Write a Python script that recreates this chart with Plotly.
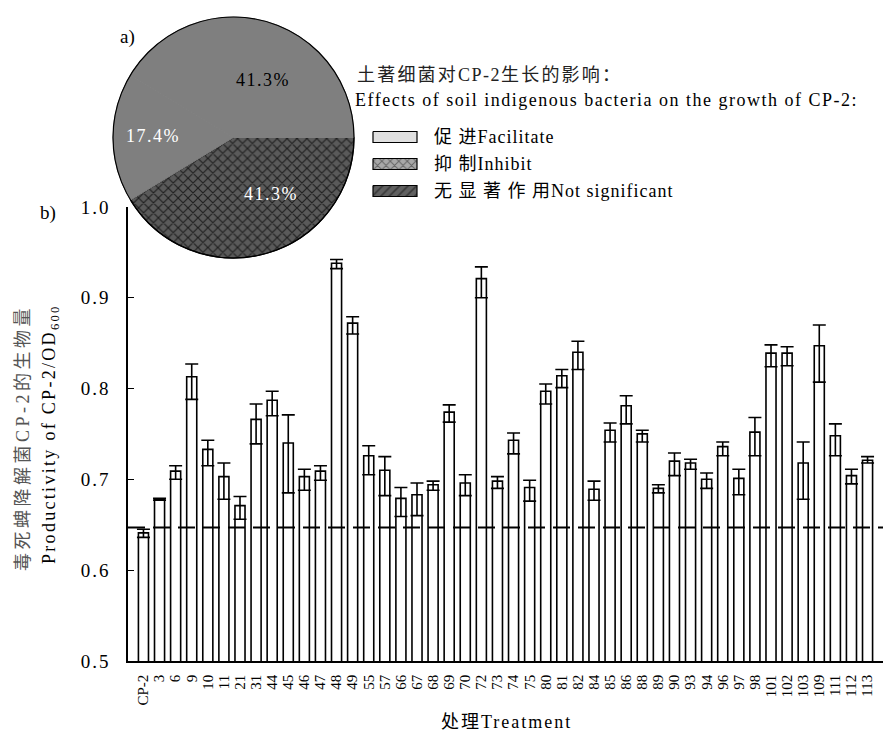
import plotly.graph_objects as go

# ---- data -------------------------------------------------------------
treatments = ["CP-2", "3", "6", "9", "10", "11", "21", "31", "44", "45", "46", "47",
              "48", "49", "55", "57", "66", "67", "68", "69", "70", "72", "73", "74",
              "75", "80", "81", "82", "84", "85", "86", "88", "89", "90", "93", "94",
              "96", "97", "98", "101", "102", "103", "109", "111", "112", "113"]

productivity = [0.641, 0.678, 0.709, 0.813, 0.733, 0.703, 0.671, 0.766, 0.787, 0.740,
                0.703, 0.709, 0.938, 0.872, 0.726, 0.710, 0.679, 0.683, 0.694, 0.774,
                0.696, 0.921, 0.698, 0.743, 0.691, 0.797, 0.814, 0.840, 0.689, 0.754,
                0.781, 0.750, 0.690, 0.720, 0.718, 0.700, 0.736, 0.701, 0.752, 0.839,
                0.839, 0.718, 0.847, 0.748, 0.704, 0.721]

err_plus = [0.004, 0.001, 0.006, 0.014, 0.010, 0.015, 0.010, 0.017, 0.010, 0.031,
            0.008, 0.006, 0.004, 0.007, 0.011, 0.015, 0.012, 0.013, 0.004, 0.008,
            0.009, 0.013, 0.005, 0.008, 0.008, 0.008, 0.007, 0.012, 0.009, 0.008,
            0.011, 0.004, 0.004, 0.009, 0.004, 0.007, 0.005, 0.010, 0.016, 0.009,
            0.007, 0.023, 0.023, 0.013, 0.007, 0.004]

err_minus = [0.005, 0.001, 0.009, 0.025, 0.018, 0.025, 0.015, 0.027, 0.017, 0.055,
             0.015, 0.010, 0.006, 0.012, 0.021, 0.028, 0.020, 0.023, 0.006, 0.011,
             0.014, 0.021, 0.008, 0.015, 0.015, 0.014, 0.013, 0.019, 0.012, 0.013,
             0.020, 0.009, 0.005, 0.016, 0.007, 0.010, 0.010, 0.018, 0.026, 0.015,
             0.014, 0.040, 0.040, 0.022, 0.009, 0.003]

control_level = 0.647  # dashed reference line

# effect categories in the pie (counts of strains)
effect_labels = ["抑制Inhibit", "无显著作用Not significant", "促进Facilitate"]
effect_counts = [19, 19, 8]

legend_labels = ["促 进Facilitate", "抑 制Inhibit", "无 显 著 作 用Not significant"]

W, H = 887, 738
FONT = "Liberation Serif, Noto Sans CJK SC, serif"


def spaced(text, px):
    return f"<span style='letter-spacing:{px}px'>{text}</span>"


def px_x(v):
    return v / W


def px_y(v):
    return 1 - v / H


fig = go.Figure()

# ---- bar chart (b) -----------------------------------------------------
fig.add_trace(go.Bar(
    x=treatments, y=productivity,
    marker=dict(color="white", line=dict(color="black", width=1.6)),
    error_y=dict(type="data", symmetric=False, array=err_plus, arrayminus=err_minus,
                 color="black", thickness=1.6, width=6.5),
    showlegend=False, hoverinfo="x+y",
))

fig.add_shape(type="line", xref="x domain", yref="y", x0=0, x1=1,
              y0=control_level, y1=control_level,
              line=dict(color="black", width=2, dash="17px,8px"))

# ---- pie chart (a) -----------------------------------------------------
pie_dom_x = [px_x(113), px_x(354)]
pie_dom_y = [px_y(258), px_y(17)]

fig.add_trace(go.Pie(
    labels=effect_labels, values=effect_counts, sort=False,
    direction="counterclockwise", rotation=90,
    domain=dict(x=pie_dom_x, y=pie_dom_y),
    marker=dict(colors=["#575757", "#7f7f7f", "#7f7f7f"],
                line=dict(color=["black", "#7f7f7f", "#7f7f7f"], width=[1.2, 1, 1]),
                pattern=dict(shape=["x", "", ""], fgcolor="#1e1e1e", bgcolor="#5a5a5a",
                             size=7, solidity=0.3)),
    textinfo="none",
    showlegend=False, hoverinfo="label+percent",
))
# outline of the whole pie
fig.add_trace(go.Pie(
    values=[1], labels=["outline"], sort=False,
    domain=dict(x=pie_dom_x, y=pie_dom_y),
    marker=dict(colors=["rgba(0,0,0,0)"], line=dict(color="black", width=1.2)),
    textinfo="none", hoverinfo="skip", showlegend=False,
))

# percentage labels inside the slices
total = sum(effect_counts)
pie_label_pos = [(271, 194), (263, 80), (153, 136)]
pie_label_color = ["white", "black", "white"]
for cnt, (lx, ly), col in zip(effect_counts, pie_label_pos, pie_label_color):
    fig.add_annotation(x=lx, y=ly, xref="x2", yref="y2",
                       text=spaced(f"{cnt / total * 100:.1f}%", 1.5), showarrow=False,
                       font=dict(family=FONT, size=18, color=col))

# ---- legend swatches on a pixel-coordinate overlay ---------------------
sw_x0, sw_x1 = 373, 417
sw_rows = [137, 164, 191]
sw_h = 11
swatch_styles = [
    dict(fillcolor="#e0e0e0", fillpattern=None),
    dict(fillcolor="#a8a8a8", fillpattern=dict(shape="x", fgcolor="#222222",
                                               bgcolor="#a8a8a8", size=6, solidity=0.3)),
    dict(fillcolor="#555555", fillpattern=dict(shape="/", fgcolor="#111111",
                                               bgcolor="#606060", size=6, solidity=0.3)),
]
for yc, st, lab in zip(sw_rows, swatch_styles, legend_labels):
    kw = dict(fill="toself", fillcolor=st["fillcolor"])
    if st["fillpattern"] is not None:
        kw["fillpattern"] = st["fillpattern"]
    fig.add_trace(go.Scatter(
        x=[sw_x0, sw_x1, sw_x1, sw_x0, sw_x0],
        y=[yc - sw_h / 2, yc - sw_h / 2, yc + sw_h / 2, yc + sw_h / 2, yc - sw_h / 2],
        mode="lines", line=dict(color="black", width=1.2),
        xaxis="x2", yaxis="y2", showlegend=False, hoverinfo="skip", **kw,
    ))
    fig.add_annotation(x=432, y=yc, xref="x2", yref="y2", text=spaced(lab, 1),
                       showarrow=False, xanchor="left", yanchor="middle",
                       font=dict(family=FONT, size=18, color="black"))

fig.add_annotation(x=355, y=75, xref="x2", yref="y2",
                   text=spaced("土著细菌对", 2.2) + spaced("CP-2", 1.5)
                   + spaced("生长的影响：", 2.2),
                   showarrow=False, xanchor="left", yanchor="middle",
                   font=dict(family=FONT, size=18, color="#222222"))
fig.add_annotation(x=353, y=100, xref="x2", yref="y2",
                   text=spaced("Effects of soil indigenous bacteria on the growth of CP-2:", 1.5),
                   showarrow=False, xanchor="left", yanchor="middle",
                   font=dict(family=FONT, size=18, color="black"))

# panel letters
fig.add_annotation(x=127, y=37, xref="x2", yref="y2", text="a)", showarrow=False,
                   font=dict(family=FONT, size=19, color="black"))
fig.add_annotation(x=48, y=213, xref="x2", yref="y2", text="b)", showarrow=False,
                   font=dict(family=FONT, size=19, color="black"))

# axis titles
fig.add_annotation(x=23, y=438, xref="x2", yref="y2",
                   text=spaced("毒死蜱降解菌CP-2的生物量", 3.5),
                   textangle=-90, showarrow=False,
                   font=dict(family=FONT, size=18, color="#555555"))
fig.add_annotation(x=50, y=434, xref="x2", yref="y2",
                   text=spaced("Productivity of CP-2/OD<sub>600</sub>", 2.3),
                   textangle=-90, showarrow=False,
                   font=dict(family=FONT, size=18, color="black"))
fig.add_annotation(x=506, y=722, xref="x2", yref="y2",
                   text=spaced("处理Treatment", 2),
                   showarrow=False, font=dict(family=FONT, size=18, color="black"))

y_ticks = [0.5, 0.6, 0.7, 0.8, 0.9, 1.0]

fig.update_layout(
    width=W, height=H,
    margin=dict(l=0, r=0, t=0, b=0),
    paper_bgcolor="white", plot_bgcolor="rgba(0,0,0,0)",
    bargap=0.375,
    font=dict(family=FONT, size=18, color="black"),
    xaxis=dict(domain=[px_x(128), px_x(883)], range=[-0.96, 45.96],
               type="category", tickmode="array", tickvals=treatments,
               ticktext=treatments,
               showline=True, linecolor="black", linewidth=1.6,
               ticks="", tickangle=-90, tickfont=dict(size=15, family=FONT),
               showgrid=False, zeroline=False, automargin=False,
               ticklabelstandoff=6),
    yaxis=dict(domain=[px_y(660.9), px_y(206.9)], range=[0.5, 1.0],
               tickvals=y_ticks, ticktext=[spaced(f"{v:.1f}", 2) for v in y_ticks],
               ticks="inside", ticklen=6, tickwidth=1.4, tickcolor="black",
               showline=True, linecolor="black", linewidth=1.6,
               showgrid=False, zeroline=False, automargin=False,
               ticklabelstandoff=12,
               tickfont=dict(size=19, family=FONT)),
    xaxis2=dict(domain=[0, 1], range=[0, W], visible=False, anchor="y2",
                fixedrange=True),
    yaxis2=dict(domain=[0, 1], range=[H, 0], visible=False, anchor="x2",
                fixedrange=True),
)

fig.write_html("out.html")
